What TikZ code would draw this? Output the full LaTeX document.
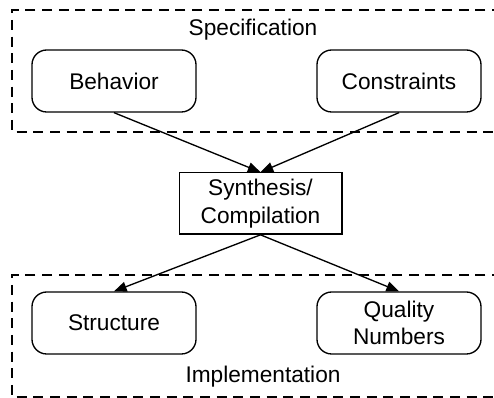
\documentclass[tikz,border=0pt]{standalone}
\usepackage{fontspec}
\setmainfont{Liberation Sans}
\usetikzlibrary{arrows.meta}
\begin{document}
\begin{tikzpicture}[x=0.75pt,y=-0.75pt,
  every node/.style={font=\fontsize{17}{20.5}\selectfont},
  rbox/.style={draw,line width=1pt,rounded corners=11pt,minimum width=123pt,minimum height=46.5pt,align=center,inner sep=0pt},
  sbox/.style={draw,line width=1pt,minimum width=122pt,minimum height=46pt,align=center,inner sep=0pt},
  group/.style={draw,line width=1pt,dash pattern=on 7.5pt off 5pt},
  conn/.style={line width=1pt,-{Triangle[length=9.5pt,width=7.5pt]}}]
\useasboundingbox (0,0) rectangle (494,398);
\draw[group] (502,10) -- (12,10) -- (12,132) -- (502,132);
\draw[group] (502,275) -- (12,275) -- (12,397) -- (502,397);
\node (spec) at (253,30) {Specification};
\node (impl) at (263,377) {Implementation};
\node[rbox] (beh) at (114,81) {Behavior};
\node[rbox] (con) at (399,81) {Constraints};
\node[sbox] (syn) at (260.5,203.5) {Synthesis/\\Compilation};
\node[rbox] (str) at (114,323) {Structure};
\node[rbox] (qua) at (399,323) {Quality\\Numbers};
\draw[conn] (beh.south) -- (syn.north);
\draw[conn] (con.south) -- (syn.north);
\draw[conn] (syn.south) -- (str.north);
\draw[conn] (syn.south) -- (qua.north);
\end{tikzpicture}
\end{document}
